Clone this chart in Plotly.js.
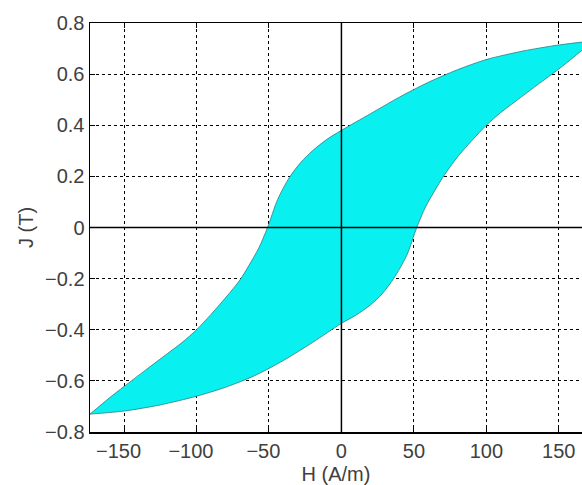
<!DOCTYPE html>
<html><head><meta charset="utf-8">
<script src="https://cdn.plot.ly/plotly-3.0.1.min.js"></script>
<style>html,body{margin:0;padding:0;background:#fff;overflow:hidden}</style>
</head><body><div id="chart" style="width:582px;height:485px"></div>
<script>
// Descending (upper) branch of the hysteresis loop: H from +Hmax to -Hmax
const upperH = [173.5, 150, 125, 100, 80, 60, 40, 20, 0, -10, -20, -28, -36, -44, -51, -57, -64, -70, -80, -90, -100, -110, -120, -135, -150, -160, -173.5];
const upperJ = [0.73, 0.714, 0.69, 0.657, 0.617, 0.568, 0.51, 0.445, 0.38, 0.345, 0.30, 0.255, 0.195, 0.11, 0.0, -0.08, -0.15, -0.205, -0.275, -0.34, -0.40, -0.45, -0.493, -0.557, -0.622, -0.666, -0.73];
// Ascending (lower) branch: H from -Hmax to +Hmax
const lowerH = [-173.5, -150, -125, -100, -80, -60, -40, -20, 0, 10, 20, 28, 36, 45, 52, 58, 65, 71, 80, 90, 100, 110, 120, 135, 150, 160, 173.5];
const lowerJ = [-0.73, -0.718, -0.694, -0.66, -0.625, -0.58, -0.52, -0.45, -0.375, -0.343, -0.303, -0.26, -0.20, -0.11, 0.0, 0.08, 0.15, 0.205, 0.275, 0.34, 0.40, 0.45, 0.493, 0.557, 0.62, 0.665, 0.73];
const xTicks = [-150, -100, -50, 0, 50, 100, 150];
const xTickText = ['\u2212150\u2007', '\u2212100\u2007', '\u221250\u2007', '0', '50', '100', '150'];
const yTicks = [-0.8, -0.6, -0.4, -0.2, 0, 0.2, 0.4, 0.6, 0.8];
const xLabel = 'H (A/m)';
const yLabel = 'J (T)';

const font = {family: 'Liberation Sans, Arial, Helvetica, sans-serif', size: 20, color: '#404040'};
const edge = {color: '#2b7f84', width: 0.8, shape: 'spline', smoothing: 0.8};

const upperTrace = {
  x: upperH, y: upperJ, type: 'scatter', mode: 'lines',
  line: edge, hoverinfo: 'skip'
};
const lowerTrace = {
  x: lowerH, y: lowerJ, type: 'scatter', mode: 'lines',
  fill: 'tonext', fillcolor: 'rgb(8,240,240)',
  line: edge, hoverinfo: 'skip'
};

const axisCommon = {
  ticks: 'inside', ticklen: 5, tickwidth: 1, tickcolor: '#000',
  showline: true, linecolor: '#000', linewidth: 1.5,
  showgrid: true, gridcolor: '#000', griddash: 'dot', gridwidth: 1,
  zeroline: false, tickfont: font, automargin: false
};

const layout = {
  width: 582, height: 485,
  margin: {l: 90, r: 0, t: 23, b: 53},
  paper_bgcolor: '#fff', plot_bgcolor: '#fff',
  showlegend: false,
  xaxis: Object.assign({}, axisCommon, {
    range: [-173.5, 166], tickvals: xTicks, ticktext: xTickText, mirror: 'ticks',
    title: {text: xLabel, font: font, standoff: 7}
  }),
  yaxis: Object.assign({}, axisCommon, {
    range: [-0.8, 0.8], tickvals: yTicks, mirror: false,
    title: {text: yLabel, font: font, standoff: 6}
  }),
  shapes: [
    {type: 'line', layer: 'above', xref: 'x', yref: 'paper', x0: 0, x1: 0, y0: 0, y1: 1, line: {color: '#000', width: 1.5}},
    {type: 'line', layer: 'above', xref: 'paper', yref: 'y', x0: 0, x1: 1, y0: 0, y1: 0, line: {color: '#000', width: 1.5}}
  ]
};

Plotly.newPlot('chart', [upperTrace, lowerTrace], layout, {displayModeBar: false, staticPlot: true});
</script>
</body></html>
